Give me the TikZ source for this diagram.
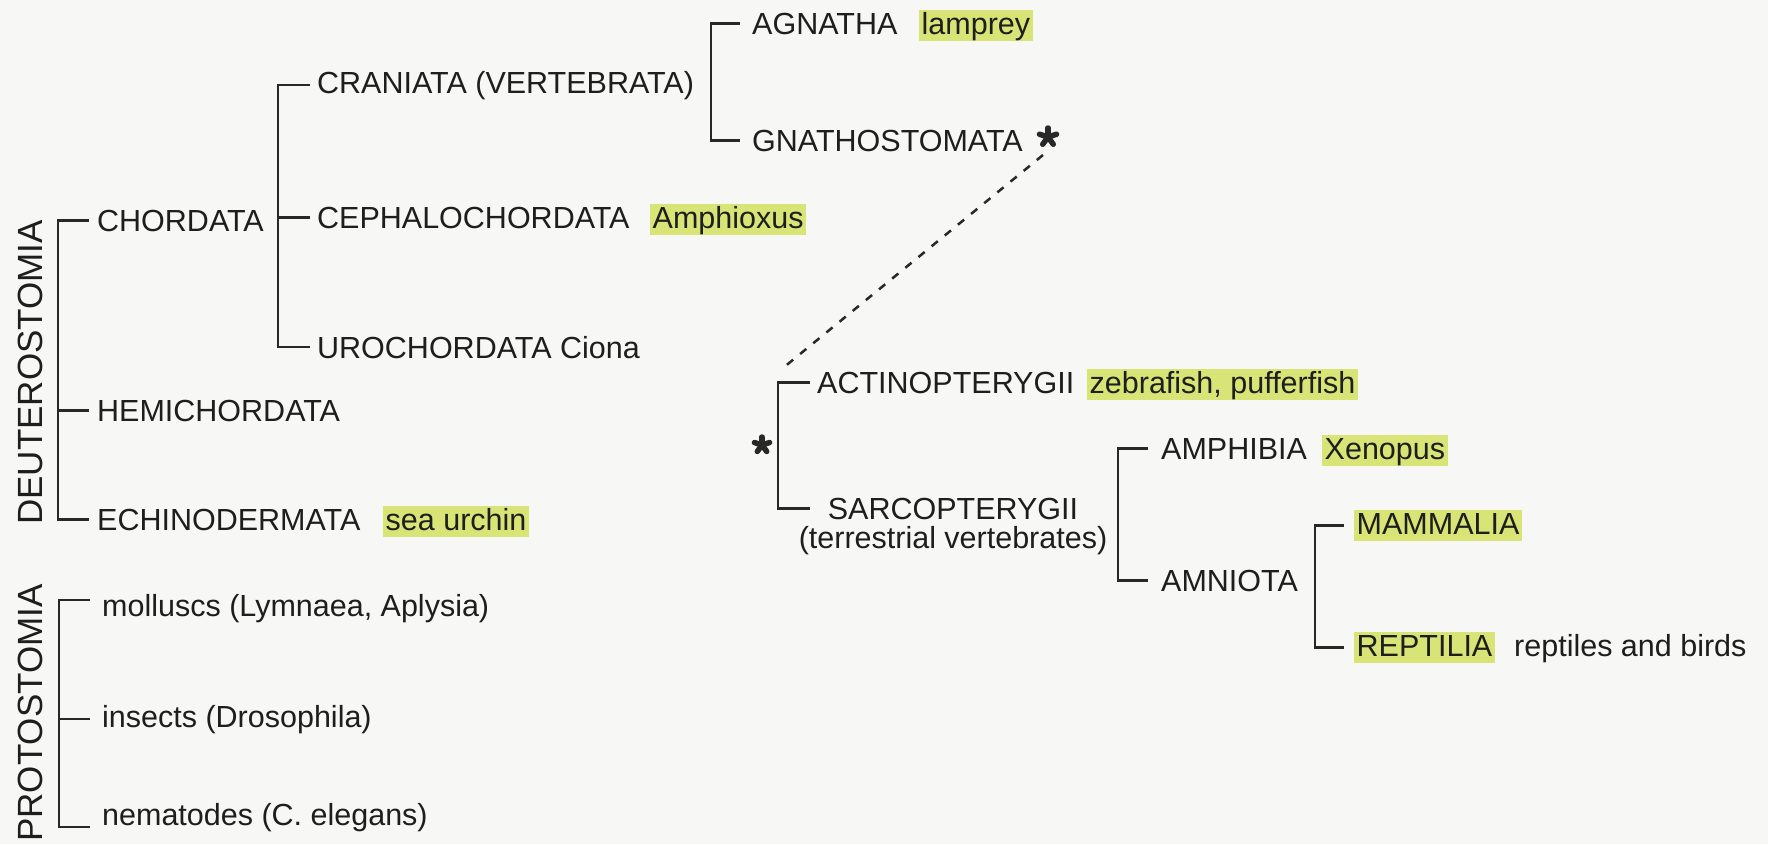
\documentclass[tikz,border=0pt]{standalone}
\usepackage{fontspec}
\setmainfont{Liberation Sans}
\definecolor{hlc}{RGB}{216,228,118}
\definecolor{ink}{RGB}{30,30,30}
\definecolor{lc}{RGB}{40,40,40}
\definecolor{bgc}{RGB}{247,247,246}
\begin{document}
\begin{tikzpicture}[x=1pt,y=-1pt,
  lab/.style={anchor=base west,inner sep=0pt,text=ink,font=\fontsize{30.5}{36}\selectfont},
  clab/.style={lab,anchor=base},
  hl/.style={lab,fill=hlc,inner xsep=2.5pt,inner ysep=0pt,text height=24pt,text depth=7pt},
  vlab/.style={anchor=base west,inner sep=0pt,text=ink,rotate=90,font=\fontsize{35}{40}\selectfont},
  br/.style={draw=lc,line width=2.7pt},
  dashlink/.style={draw=lc,line width=2.5pt,dash pattern=on 8pt off 9pt},
  starline/.style={draw=lc,line width=5.5pt,line cap=round},
  starnode/.style={inner sep=0pt,minimum size=0pt}]
\fill[bgc] (0,0) rectangle (1768,844);
\useasboundingbox (0,0) rectangle (1768,844);

% vertical group labels
\node[vlab] (deut) at (42,525) {DEUTEROSTOMIA};
\node[vlab] (prot) at (42,842) {PROTOSTOMIA};

% deuterostomia
\node[lab] (chord) at (97,231) {CHORDATA};
\node[lab] (hemi) at (97,421) {HEMICHORDATA};
\node[lab] (echino) at (97,530) {ECHINODERMATA};
\node[hl] (urchin) at (383,530) {sea urchin};

% chordata
\node[lab] (cran) at (317,93) {CRANIATA (VERTEBRATA)};
\node[lab] (ceph) at (317,228) {CEPHALOCHORDATA};
\node[hl] (amph) at (650,228) {Amphioxus};
\node[lab] (uro) at (317,358) {UROCHORDATA Ciona};

% craniata
\node[lab] (agn) at (752,34) {AGNATHA};
\node[hl] (lamp) at (919,34) {lamprey};
\node[lab] (gnath) at (752,151) {GNATHOSTOMATA};
\node[starnode] (gstar) at (1048,137) {};

% gnathostomata
\node[lab] (actino) at (817,393) {ACTINOPTERYGII};
\node[hl] (zebra) at (1087,393) {zebrafish, pufferfish};
\node[starnode] (astar) at (762,445) {};
\node[clab] (sarco) at (953,519) {SARCOPTERYGII};
\node[clab] (terr) at (953,548) {(terrestrial vertebrates)};

% sarcopterygii
\node[lab] (amphib) at (1161,459) {AMPHIBIA};
\node[hl] (xeno) at (1322,459) {Xenopus};
\node[lab] (amnio) at (1161,591) {AMNIOTA};

% amniota
\node[hl] (mamm) at (1354,534) {MAMMALIA};
\node[hl] (rept) at (1354,656) {REPTILIA};
\node[lab] (birds) at (1514,656) {reptiles and birds};

% protostomia
\node[lab] (moll) at (102,616) {molluscs (Lymnaea, Aplysia)};
\node[lab] (insect) at (102,727) {insects (Drosophila)};
\node[lab] (nema) at (102,825) {nematodes (C. elegans)};

% bracket axes
\coordinate (deutx) at (58,0);
\coordinate (chx) at (278,0);
\coordinate (crx) at (711,0);
\coordinate (acx) at (778,0);
\coordinate (sax) at (1118,0);
\coordinate (amx) at (1315,0);
\coordinate (prx) at (59,0);
\coordinate (pt1) at (90,600);
\coordinate (pt3) at (90,827);

% brackets
\draw[br] ([xshift=-8pt]chord.west) -| (deutx |- echino.west) -- ([xshift=-8pt]echino.west);
\draw[br] (deutx |- hemi.west) -- ([xshift=-8pt]hemi.west);

\draw[br] ([xshift=-7pt]cran.west) -| (chx |- uro.west) -- ([xshift=-7pt]uro.west);
\draw[br] (chx |- ceph.west) -- ([xshift=-7pt]ceph.west);

\draw[br] ([xshift=-12pt]agn.west) -| (crx |- gnath.west) -- ([xshift=-12pt]gnath.west);

\draw[br] ([xshift=-7pt]actino.west) -| (acx |- sarco.west) -- ([xshift=-18pt]sarco.west);

\draw[br] ([xshift=-13pt]amphib.west) -| (sax |- amnio.west) -- ([xshift=-13pt]amnio.west);

\draw[br] ([xshift=-10pt]mamm.west) -| (amx |- rept.west) -- ([xshift=-10pt]rept.west);

\draw[br] (pt1) -| (prx |- pt3) -- (pt3);
\draw[br] (prx |- insect.west) -- ([xshift=-12pt]insect.west);

% dashed link
\coordinate (dtop) at (1043,155);
\coordinate (dbot) at (783,368);
\draw[dashlink] (dtop) -- (dbot);

% asterisks
\foreach \a in {90,18,162,234,306} {
  \draw[starline] (gstar.center) -- ++(\a:9pt);
  \draw[starline] (astar.center) -- ++(\a:8pt);
}
\end{tikzpicture}
\end{document}
